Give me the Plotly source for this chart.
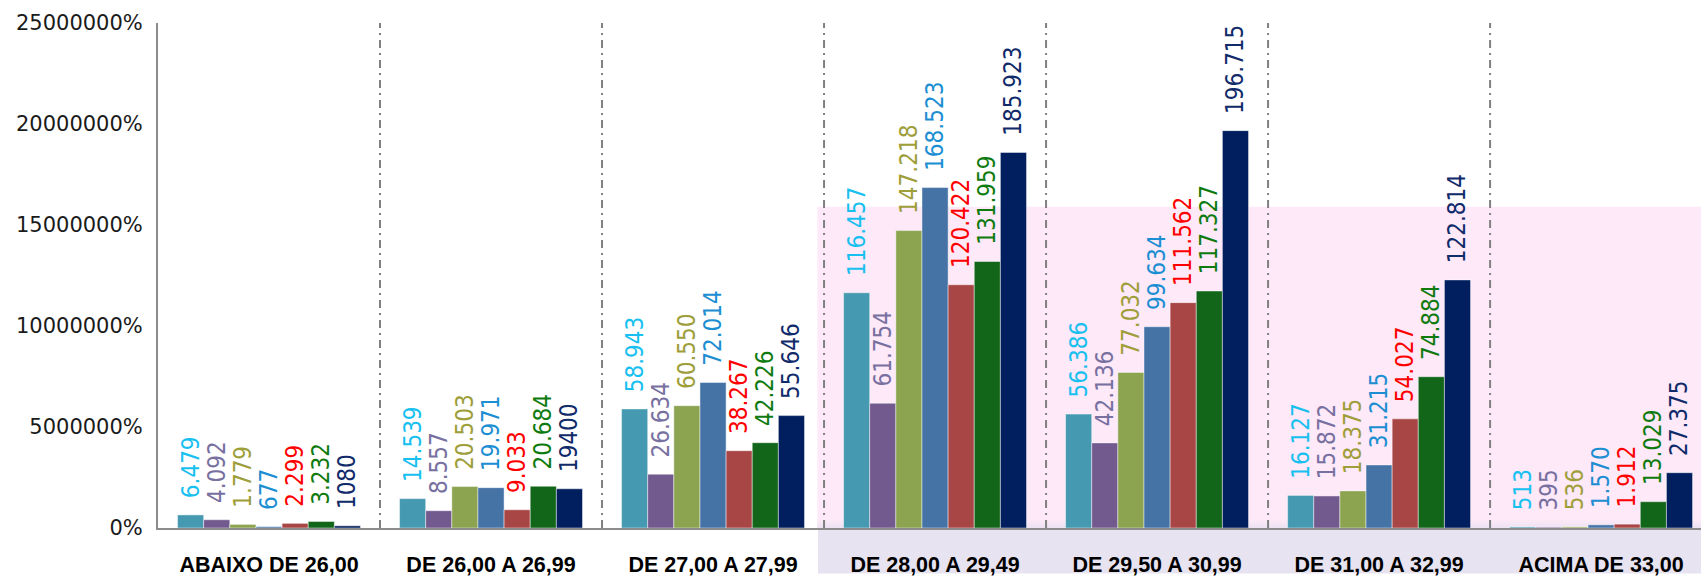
import plotly.graph_objects as go

categories = ["ABAIXO DE 26,00", "DE 26,00 A 26,99", "DE 27,00 A 27,99",
              "DE 28,00 A 29,49", "DE 29,50 A 30,99", "DE 31,00 A 32,99",
              "ACIMA DE 33,00"]

s1 = [6479, 14539, 58943, 116457, 56386, 16127, 513]
s2 = [4092, 8557, 26634, 61754, 42136, 15872, 395]
s3 = [1779, 20503, 60550, 147218, 77032, 18375, 536]
s4 = [677, 19971, 72014, 168523, 99634, 31215, 1570]
s5 = [2299, 9033, 38267, 120422, 111562, 54027, 1912]
s6 = [3232, 20684, 42226, 131959, 117327, 74884, 13029]
s7 = [1080, 19400, 55646, 185923, 196715, 122814, 27375]

l1 = ["6.479", "14.539", "58.943", "116.457", "56.386", "16.127", "513"]
l2 = ["4.092", "8.557", "26.634", "61.754", "42.136", "15.872", "395"]
l3 = ["1.779", "20.503", "60.550", "147.218", "77.032", "18.375", "536"]
l4 = ["677", "19.971", "72.014", "168.523", "99.634", "31.215", "1.570"]
l5 = ["2.299", "9.033", "38.267", "120.422", "111.562", "54.027", "1.912"]
l6 = ["3.232", "20.684", "42.226", "131.959", "117.327", "74.884", "13.029"]
l7 = ["1080", "19400", "55.646", "185.923", "196.715", "122.814", "27.375"]

series = [s1, s2, s3, s4, s5, s6, s7]
labels = [l1, l2, l3, l4, l5, l6, l7]
bar_colors = ["#4599B1", "#725A8F", "#8CA34F", "#4673A6", "#A84646", "#12661A", "#011F5E"]
text_colors = ["#18C0F0", "#7870A0", "#9E9E3A", "#1C8ED2", "#FF0000", "#0F7B0F", "#102A6A"]

highlight_top = 159000  # shaded band height (value units)

fig = go.Figure()
for vals, labs, bc, tc in zip(series, labels, bar_colors, text_colors):
    fig.add_trace(go.Bar(
        x=categories, y=vals,
        text=["\u00a0\u00a0" + t for t in labs],
        textposition="outside", textangle=-90, constraintext="none",
        cliponaxis=False,
        textfont=dict(family="Liberation Sans Narrow, DejaVu Sans Condensed, Liberation Sans",
                      size=24, color=tc),
        marker=dict(color=bc, line=dict(color="rgba(255,255,255,0.45)", width=1)),
        showlegend=False, hoverinfo="skip",
    ))

shapes = []
# pink highlight band
shapes.append(dict(type="rect", xref="x", yref="y", x0=2.47, x1=6.45, y0=0, y1=highlight_top,
                   fillcolor="#FDE9F8", line=dict(width=0), layer="below"))
# gradient near baseline
grad = ["#FBE8F7", "#F7E6F6", "#F2E4F4", "#EDE3F3"]
for i, c in enumerate(grad):
    shapes.append(dict(type="rect", xref="x", yref="y", x0=2.47, x1=6.45,
                       y0=0, y1=4000 - i * 1000, fillcolor=c, line=dict(width=0), layer="below"))
# lavender band below axis
shapes.append(dict(type="rect", xref="paper", yref="paper", x0=0.4277, x1=1, y0=-0.09, y1=0,
                   fillcolor="#E7E3F1", line=dict(width=0), layer="below"))
# category separators
for k in range(len(categories) - 1):
    shapes.append(dict(type="line", xref="x", yref="y", x0=k + 0.5, x1=k + 0.5, y0=0, y1=250000,
                       line=dict(color="#808080", width=2, dash="8px,5px,2px,5px"), layer="above"))

fig.update_layout(
    width=1701, height=577,
    margin=dict(l=158, r=0, t=23, b=44),
    paper_bgcolor="white", plot_bgcolor="rgba(0,0,0,0)",
    barmode="group", bargap=0.176, bargroupgap=0,
    shapes=shapes,
)
fig.update_xaxes(
    range=[-0.5, 6.45], showgrid=False, zeroline=False,
    showline=True, linecolor="#8C8C8C", linewidth=2,
    ticks="", ticklabelstandoff=16,
    tickfont=dict(family="Liberation Sans, Arial", size=21.5, color="#000000", weight="bold"),
)
fig.update_yaxes(
    range=[0, 250000], dtick=50000, tickformat=".0%",
    showgrid=False, zeroline=False,
    showline=True, linecolor="#8C8C8C", linewidth=2,
    ticks="", ticklabelstandoff=9,
    tickfont=dict(family="DejaVu Sans", size=21, color="#1A1A1A"),
)

fig.write_html("out.html", config={"displayModeBar": False},
               post_script="document.body.style.margin='0';document.body.style.overflow='hidden';")
